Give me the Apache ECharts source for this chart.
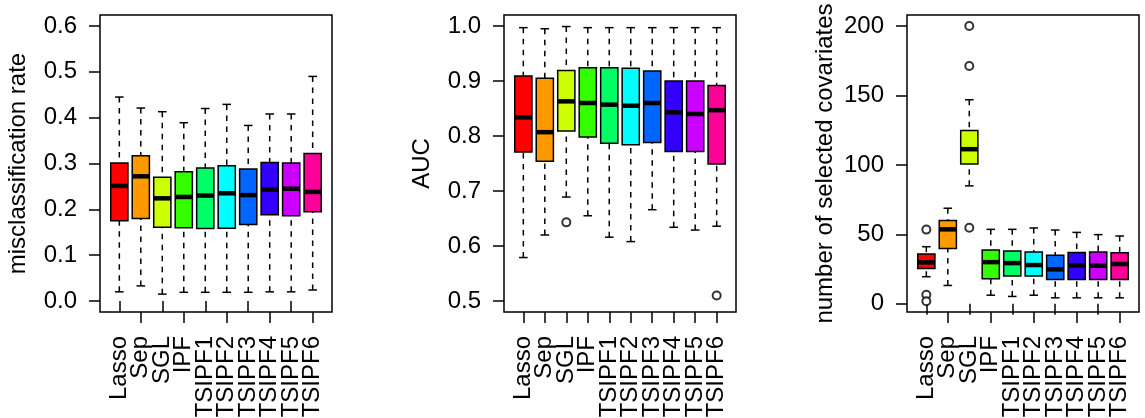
<!DOCTYPE html>
<html>
<head>
<meta charset="utf-8">
<script src="https://cdn.jsdelivr.net/npm/echarts@6/dist/echarts.min.js"></script>
<style>
  html, body { margin: 0; padding: 0; background: #fff; }
  #chart { width: 1145px; height: 418px; }
</style>
</head>
<body>
<div id="chart"></div>
<script>
const methods = ['Lasso', 'Sep', 'SGL', 'IPF', 'TSIPF1', 'TSIPF2', 'TSIPF3', 'TSIPF4', 'TSIPF5', 'TSIPF6']

// five-number rows: lower whisker, Q1, median, Q3, upper whisker
const misStats = [
  [0.020, 0.175, 0.251, 0.301, 0.445],
  [0.033, 0.180, 0.272, 0.317, 0.421],
  [0.015, 0.161, 0.224, 0.270, 0.413],
  [0.019, 0.160, 0.227, 0.282, 0.389],
  [0.019, 0.158, 0.230, 0.290, 0.420],
  [0.019, 0.159, 0.235, 0.295, 0.429],
  [0.019, 0.167, 0.231, 0.288, 0.383],
  [0.020, 0.188, 0.243, 0.302, 0.408],
  [0.020, 0.186, 0.245, 0.301, 0.408],
  [0.024, 0.195, 0.238, 0.322, 0.490]
]
const misOutliers = []

const aucStats = [
  [0.579, 0.771, 0.834, 0.909, 0.997],
  [0.620, 0.754, 0.807, 0.905, 0.995],
  [0.689, 0.809, 0.863, 0.919, 0.999],
  [0.655, 0.798, 0.860, 0.924, 0.997],
  [0.616, 0.787, 0.857, 0.924, 0.997],
  [0.608, 0.784, 0.855, 0.923, 0.997],
  [0.666, 0.788, 0.860, 0.918, 0.997],
  [0.634, 0.772, 0.843, 0.900, 0.997],
  [0.629, 0.772, 0.840, 0.900, 0.997],
  [0.636, 0.749, 0.847, 0.892, 0.997]
]
const aucOutliers = [[3, 0.643], [10, 0.510]]

const nselStats = [
  [19.5, 25.5, 29.8, 35.8, 41.1],
  [13.2, 39.9, 53.6, 59.9, 68.8],
  [84.9, 100.7, 111.3, 124.8, 146.9],
  [6.2, 18.0, 30.0, 38.7, 53.6],
  [5.3, 20.0, 29.3, 38.0, 53.6],
  [6.2, 20.0, 27.9, 37.3, 54.6],
  [4.3, 17.5, 24.8, 34.9, 53.1],
  [4.3, 17.5, 27.6, 37.0, 51.4],
  [4.3, 17.5, 27.4, 37.3, 49.8],
  [4.3, 17.5, 28.6, 36.8, 48.8]
]
const nselOutliers = [[1, 53.4], [1, 6.5], [1, 1.9], [3, 200], [3, 171.2], [3, 54.8]]

const misTicks = [0, 0.1, 0.2, 0.3, 0.4, 0.5, 0.6]
const aucTicks = [0.5, 0.6, 0.7, 0.8, 0.9, 1.0]
const nselTicks = [0, 50, 100, 150, 200]

// R rainbow(10)
const colors = ['#FF0000', '#FF9900', '#CCFF00', '#33FF00', '#00FF66',
  '#00FFFF', '#0066FF', '#3300FF', '#CC00FF', '#FF0099']

const font = "'Liberation Sans', Arial, Helvetica, sans-serif"
const fs = 24
const lw = 1.5

function renderBox(params, api) {
  const x = api.value(0)
  const pLo = api.coord([x, api.value(1)])
  const pQ1 = api.coord([x, api.value(2)])
  const pMd = api.coord([x, api.value(3)])
  const pQ3 = api.coord([x, api.value(4)])
  const pHi = api.coord([x, api.value(5)])
  const half = api.size([0.8, 0])[0] / 2
  const cap = half / 2
  const cx = pMd[0]
  const dashed = { stroke: '#000', lineWidth: lw, lineDash: [5.5, 5.5] }
  const solid = { stroke: '#000', lineWidth: lw }
  return {
    type: 'group',
    children: [
      { type: 'line', shape: { x1: cx, y1: pLo[1], x2: cx, y2: pQ1[1] }, style: dashed },
      { type: 'line', shape: { x1: cx, y1: pHi[1], x2: cx, y2: pQ3[1] }, style: dashed },
      { type: 'line', shape: { x1: cx - cap, y1: pLo[1], x2: cx + cap, y2: pLo[1] }, style: solid },
      { type: 'line', shape: { x1: cx - cap, y1: pHi[1], x2: cx + cap, y2: pHi[1] }, style: solid },
      {
        type: 'rect',
        shape: { x: cx - half, y: pQ3[1], width: half * 2, height: pQ1[1] - pQ3[1] },
        style: { fill: colors[params.dataIndex], stroke: '#000', lineWidth: lw }
      },
      {
        type: 'line',
        shape: { x1: cx - half, y1: pMd[1], x2: cx + half, y2: pMd[1] },
        style: { stroke: '#000', lineWidth: 4.5, lineCap: 'butt' }
      }
    ]
  }
}

const lefts = [100, 504, 907]
const names = ['misclassification rate', 'AUC', 'number of selected covariates']
const ranges = [[-0.024, 0.624], [0.48, 1.02], [-5.9, 207.9]]
const ticks = [misTicks, aucTicks, nselTicks]
const digits = [1, 1, 0]
const stats = [misStats, aucStats, nselStats]
const outliers = [misOutliers, aucOutliers, nselOutliers]

const grid = [], xAxis = [], yAxis = [], series = []
// labels overlap-hide when they sit 21px apart, so odd and even positions go on two stacked axes
const positions = methods.map((m, i) => i + 1)
const xTickSets = [positions.filter(p => p % 2 === 1), positions.filter(p => p % 2 === 0)]

for (let k = 0; k < 3; k++) {
  grid.push({
    left: lefts[k], top: 15, width: 232, height: 297,
    show: true, borderColor: '#000', borderWidth: lw,
    containLabel: false, outerBoundsMode: 'none'
  })
  xTickSets.forEach(set => {
    xAxis.push({
      type: 'value', gridIndex: k, position: 'bottom', min: 0.1, max: 10.9,
      axisLine: { show: false },
      splitLine: { show: false },
      axisTick: { show: true, customValues: set, length: 11, lineStyle: { color: '#000', width: lw } },
      axisLabel: {
        customValues: set, rotate: 90, margin: 24,
        showMinLabel: true, showMaxLabel: true,
        fontSize: fs, fontFamily: font, color: '#000',
        formatter: v => methods[Math.round(v) - 1] || ''
      }
    })
  })
  yAxis.push({
    type: 'value', gridIndex: k, min: ranges[k][0], max: ranges[k][1],
    name: names[k], nameLocation: 'middle', nameRotate: 90, nameGap: 70,
    nameTextStyle: { fontSize: fs, fontFamily: font, color: '#000' },
    axisLine: { show: false },
    splitLine: { show: false },
    axisTick: { show: true, customValues: ticks[k], length: 11, lineStyle: { color: '#000', width: lw } },
    axisLabel: {
      customValues: ticks[k], margin: 23,
      showMinLabel: true, showMaxLabel: true,
      fontSize: fs, fontFamily: font, color: '#000',
      formatter: v => v.toFixed(digits[k])
    }
  })
  series.push({
    type: 'custom', xAxisIndex: 2 * k, yAxisIndex: k,
    renderItem: renderBox,
    encode: { x: 0, y: [1, 2, 3, 4, 5] },
    data: stats[k].map((s, i) => [i + 1].concat(s)),
    silent: true
  })
  series.push({
    type: 'scatter', xAxisIndex: 2 * k, yAxisIndex: k,
    symbol: 'emptyCircle', symbolSize: 8,
    itemStyle: { color: '#000', borderColor: '#000', borderWidth: lw },
    data: outliers[k],
    silent: true
  })
}

const chart = echarts.init(document.getElementById('chart'), null, { renderer: 'canvas' })
chart.setOption({
  backgroundColor: '#fff',
  animation: false,
  grid: grid,
  xAxis: xAxis,
  yAxis: yAxis,
  series: series
})
</script>
</body>
</html>
